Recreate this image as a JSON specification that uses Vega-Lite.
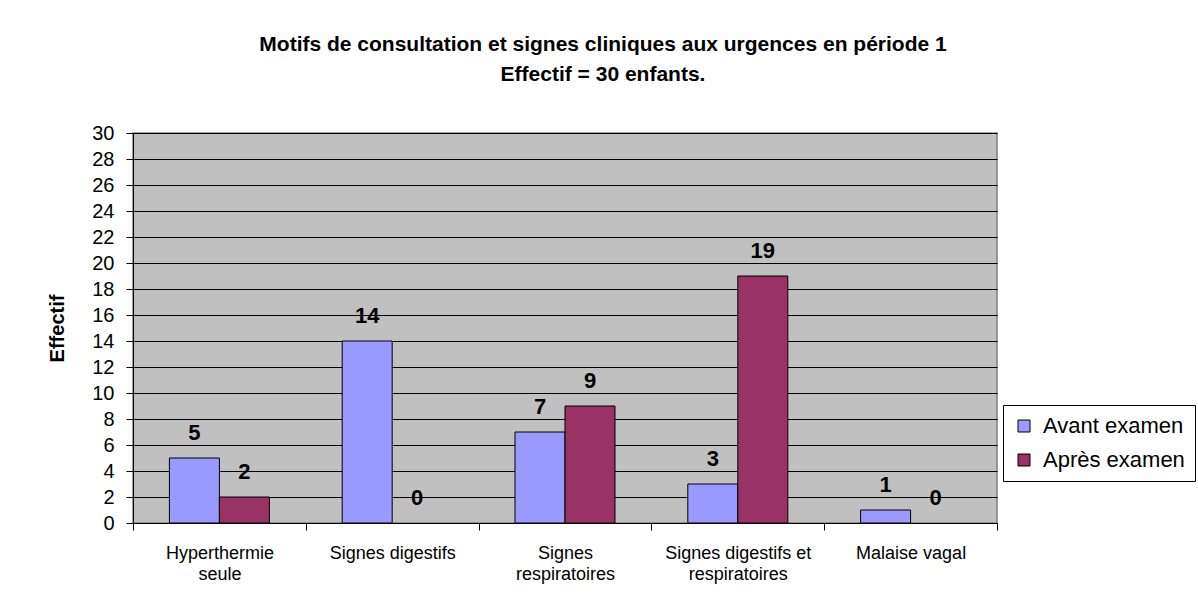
{
  "$schema": "https://vega.github.io/schema/vega-lite/v6.json",
  "width": 864,
  "height": 390,
  "autosize": {"type": "none"},
  "padding": {"left": 133, "top": 133, "right": 201, "bottom": 74},
  "background": "white",
  "title": {
    "text": ["Motifs de consultation et signes cliniques aux urgences en période 1", "Effectif = 30 enfants."],
    "font": "Liberation Sans",
    "fontSize": 21,
    "fontWeight": "bold",
    "lineHeight": 30,
    "anchor": "middle",
    "dx": 38,
    "offset": 38,
    "color": "black"
  },
  "data": {
    "values": [
      {"categorie": "Hyperthermie seule", "serie": "Avant examen", "effectif": 5},
      {"categorie": "Hyperthermie seule", "serie": "Après examen", "effectif": 2},
      {"categorie": "Signes digestifs", "serie": "Avant examen", "effectif": 14},
      {"categorie": "Signes digestifs", "serie": "Après examen", "effectif": 0},
      {"categorie": "Signes respiratoires", "serie": "Avant examen", "effectif": 7},
      {"categorie": "Signes respiratoires", "serie": "Après examen", "effectif": 9},
      {"categorie": "Signes digestifs et respiratoires", "serie": "Avant examen", "effectif": 3},
      {"categorie": "Signes digestifs et respiratoires", "serie": "Après examen", "effectif": 19},
      {"categorie": "Malaise vagal", "serie": "Avant examen", "effectif": 1},
      {"categorie": "Malaise vagal", "serie": "Après examen", "effectif": 0}
    ]
  },
  "encoding": {
    "x": {
      "field": "categorie",
      "type": "nominal",
      "sort": null,
      "scale": {"paddingInner": 0, "paddingOuter": 0},
      "axis": {
        "title": null,
        "labelAngle": 0,
        "labelFont": "Liberation Sans",
        "labelFontSize": 18,
        "labelColor": "black",
        "labelLineHeight": 21,
        "labelPadding": 14,
        "labelBaseline": "top",
        "tickBand": "extent",
        "tickSize": 7,
        "tickColor": "black",
        "domainColor": "black",
        "labelExpr": "datum.value == 'Hyperthermie seule' ? ['Hyperthermie', 'seule'] : datum.value == 'Signes respiratoires' ? ['Signes', 'respiratoires'] : datum.value == 'Signes digestifs et respiratoires' ? ['Signes digestifs et', 'respiratoires'] : datum.value",
        "grid": false
      }
    },
    "xOffset": {
      "field": "serie",
      "type": "nominal",
      "sort": ["Avant examen", "Après examen"],
      "scale": {"paddingInner": 0, "paddingOuter": 0.728}
    },
    "y": {
      "field": "effectif",
      "type": "quantitative",
      "scale": {"domain": [0, 30], "nice": false},
      "axis": {
        "title": "Effectif",
        "titleFont": "Liberation Sans",
        "titleFontSize": 20,
        "titleFontWeight": "bold",
        "titleColor": "black",
        "titleAngle": -90,
        "titleX": -76,
        "titleY": 195,
        "titleAlign": "center",
        "titleBaseline": "middle",
        "values": [0, 2, 4, 6, 8, 10, 12, 14, 16, 18, 20, 22, 24, 26, 28, 30],
        "labelFont": "Liberation Sans",
        "labelFontSize": 20,
        "labelColor": "black",
        "labelPadding": 12,
        "tickSize": 7,
        "tickColor": "black",
        "domainColor": "black",
        "grid": true,
        "gridColor": "black",
        "gridWidth": 1.2,
        "gridOpacity": 1
      }
    }
  },
  "layer": [
    {
      "transform": [{"filter": "datum.effectif > 0"}],
      "mark": {"type": "bar", "stroke": "black", "strokeWidth": 1},
      "encoding": {
        "color": {
          "field": "serie",
          "type": "nominal",
          "sort": ["Avant examen", "Après examen"],
          "scale": {"domain": ["Avant examen", "Après examen"], "range": ["#9999FF", "#993366"]},
          "legend": {
            "orient": "none",
            "legendX": 870,
            "legendY": 272,
            "title": null,
            "strokeColor": "black",
            "fillColor": "white",
            "padding": 10,
            "symbolType": "square",
            "symbolSize": 144,
            "symbolStrokeColor": "black",
            "symbolStrokeWidth": 1,
            "symbolOpacity": 1,
            "labelFont": "Liberation Sans",
            "labelFontSize": 22,
            "labelColor": "black",
            "labelOffset": 8,
            "rowPadding": 12
          }
        }
      }
    },
    {
      "mark": {
        "type": "text",
        "font": "Liberation Sans",
        "fontSize": 22,
        "fontWeight": "bold",
        "color": "black",
        "baseline": "alphabetic",
        "dy": -18
      },
      "encoding": {
        "text": {"field": "effectif", "type": "quantitative"}
      }
    }
  ],
  "config": {
    "view": {"fill": "#C0C0C0", "stroke": "#808080", "strokeWidth": 1.5}
  }
}
